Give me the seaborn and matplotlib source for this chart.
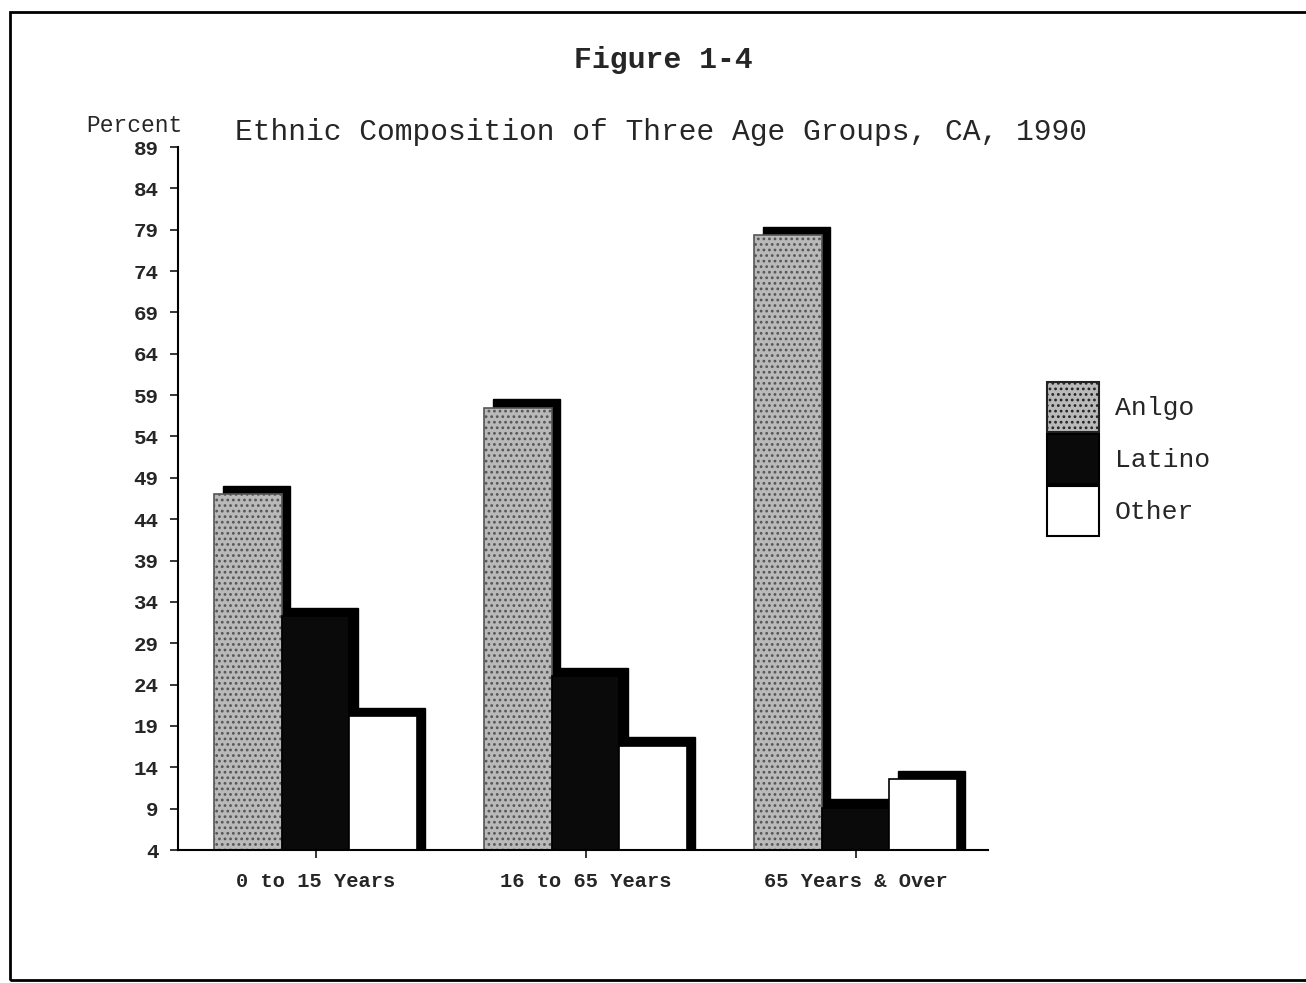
import matplotlib
matplotlib.use("Agg")
import matplotlib.pyplot as plt
import matplotlib.patheffects as pe
from matplotlib.patches import Rectangle, Patch
import seaborn as sns
import pandas as pd

# ---- data ----
age_groups = ["0 to 15 Years", "16 to 65 Years", "65 Years & Over"]
ethnic_groups = ["Anlgo", "Latino", "Other"]
anglo = [47.0, 57.5, 78.3]
latino = [32.3, 25.0, 9.1]
other = [20.2, 16.6, 12.6]
y_ticks = [4, 9, 14, 19, 24, 29, 34, 39, 44, 49, 54, 59, 64, 69, 74, 79, 84, 89]

df = pd.DataFrame({
    "age": age_groups * 3,
    "group": [g for g in ethnic_groups for _ in age_groups],
    "pct": anglo + latino + other,
})

sns.set_style("white")
plt.rcParams["font.family"] = ["Liberation Mono", "DejaVu Sans Mono"]
plt.rcParams["hatch.linewidth"] = 1.2

W, H = 1306, 983
fig = plt.figure(figsize=(W / 100, H / 100), dpi=100)
ax = fig.add_axes([178 / W, 1 - 850 / H, (988 - 178) / W, (850 - 147) / H])

palette = {"Anlgo": "#b9b9b9", "Latino": "#0a0a0a", "Other": "#ffffff"}
sns.barplot(data=df, x="age", y="pct", hue="group", order=age_groups,
            hue_order=ethnic_groups, palette=palette, width=0.75, gap=0,
            saturation=1, edgecolor="black", linewidth=1.2, ax=ax, legend=False)

for cont, g in zip(ax.containers, ethnic_groups):
    for bar in cont:
        bar.set_path_effects([
            pe.PathPatchEffect(offset=(6, 6), facecolor="black", edgecolor="black", linewidth=1),
            pe.Normal()])
        if g == "Anlgo":
            bar.set_hatch("...")
            bar.set_edgecolor("#555555")

ax.set_xlim(-0.51, 2.49)
ax.set_ylim(4, 89)
ax.set_yticks(y_ticks)
ax.set_yticklabels([str(t) for t in y_ticks], fontsize=15, fontweight="bold")
ax.set_xticks(range(len(age_groups)))
ax.set_xticklabels(age_groups, fontsize=14.7, fontweight="bold")
ax.tick_params(axis="y", direction="out", length=6, width=1.3, left=True, pad=8)
ax.tick_params(axis="x", direction="out", length=6, width=1.3, bottom=True, pad=10)
ax.set_xlabel("")
ax.set_ylabel("")
for s in ["top", "right"]:
    ax.spines[s].set_visible(False)
for s in ["left", "bottom"]:
    ax.spines[s].set_linewidth(1.5)
    ax.spines[s].set_color("black")

# legend
handles = [Patch(facecolor=palette["Anlgo"], edgecolor="#222222", hatch="...", linewidth=1.5),
           Patch(facecolor=palette["Latino"], edgecolor="black", linewidth=1.5),
           Patch(facecolor=palette["Other"], edgecolor="black", linewidth=1.5)]
fig.legend(handles, ethnic_groups, loc="center left", bbox_to_anchor=(1034 / W, 1 - 459 / H),
           frameon=False, fontsize=19, handlelength=1.97, handleheight=2.5,
           labelspacing=0.1, handletextpad=0.6, borderpad=0)

fig.text(663 / W, 1 - 60 / H, "Figure 1-4", ha="center", va="center",
         fontsize=21.4, fontweight="bold")
fig.text(235 / W, 1 - 132 / H, "Ethnic Composition of Three Age Groups, CA, 1990",
         ha="left", va="center", fontsize=21.3)
fig.text(86 / W, 1 - 125 / H, "Percent", ha="left", va="center", fontsize=16.5)

fig.patches.append(Rectangle((10 / W, 1 - 980 / H), 1.2, (980 - 12) / H,
                             transform=fig.transFigure, fill=False,
                             edgecolor="black", linewidth=2))

fig.savefig("out.png", dpi=100, facecolor="white")
